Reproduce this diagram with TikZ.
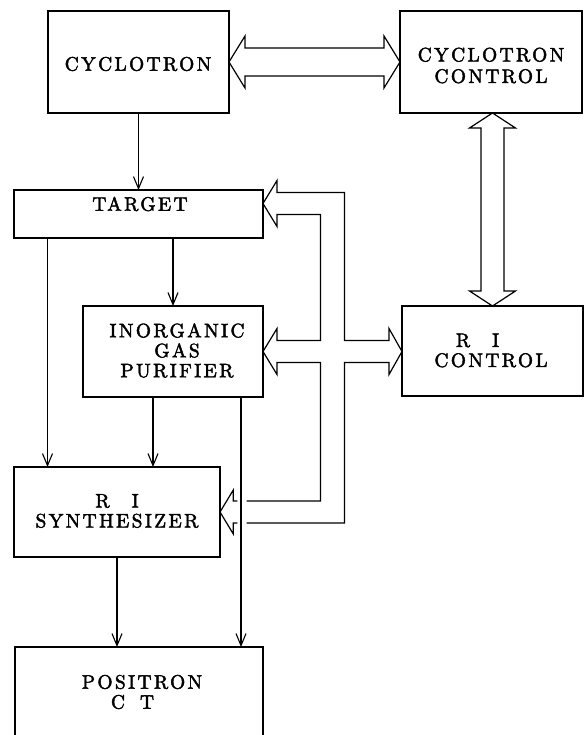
\documentclass[tikz,border=0pt]{standalone}
\usepackage{fontspec}
\usetikzlibrary{arrows.meta, positioning, calc}
\newfontfamily\boxfam{lmroman10-regular.otf}[LetterSpace=12, FakeBold=2.2]
\newcommand{\boxfont}{\boxfam\fontsize{19.5}{20}\selectfont}

\begin{document}
\begin{tikzpicture}[x=1pt, y=-1pt, line width=1.2pt,
    blk/.style={draw, inner sep=0pt, outer sep=0pt, anchor=north west},
    lbl/.style={font=\boxfont, align=center, inner sep=0pt},
    flow/.style={-{Straight Barb[length=12pt, width=10pt]}, line width=1.1pt}]
    \useasboundingbox (0,0) rectangle (585,735);
    \clip (0,0) rectangle (585,735);
    \fill[white] (0,0) rectangle (585,735);

    % Boxes
    \node[blk, minimum width=181pt, minimum height=102pt] (cyc) at (48,11) {};
    \node[blk, minimum width=182pt, minimum height=102pt] (cycctl) at (400,11) {};
    \node[blk, minimum width=249pt, minimum height=48pt] (tgt) at (14,190) {};
    \node[blk, minimum width=180pt, minimum height=91pt] (pur) at (83,306) {};
    \node[blk, minimum width=181pt, minimum height=90pt] (rictl) at (402,306) {};
    \node[blk, minimum width=206pt, minimum height=90pt] (syn) at (14,467) {};
    \node[blk, minimum width=248pt, minimum height=110pt] (pct) at (15,647) {};

    % Texts
    \node[lbl] (cyc-t) at (138,64) {CYCLOTRON};
    \node[lbl] (cycctl-t) at (491,65.5) {CYCLOTRON\\[1.5pt]CONTROL};
    \node[lbl] (tgt-t) at (140,204) {TARGET};
    \node[lbl] (pur-t) at (177,350.5) {INORGANIC\\GAS\\PURIFIER};
    \node[lbl] (rictl-t) at (491,350.5) {R\hspace{22pt}I\rule{27pt}{0pt}\\CONTROL};
    \node[lbl] (syn-t) at (117,511) {R\hspace{22pt}I\\SYNTHESIZER};
    \node[lbl] (pct-t) at (142,692) {POSITRON\\C\hspace{15pt}T\rule{19pt}{0pt}};

    % Flow lines
    \draw[flow] (cyc.south) -- (cyc.south |- tgt.north);
    \draw[flow] ($(tgt.south west)+(33.5,0)$) coordinate (t1) -- (t1 |- syn.north);
    \draw[flow] (pur.north |- tgt.south) -- (pur.north);
    \draw[flow] ($(pur.south west)+(70,0)$) coordinate (p1) -- (p1 |- syn.north);
    \draw[flow] ($(pur.south west)+(158,0)$) coordinate (p2) -- (p2 |- pct.north);
    \draw[flow] (syn.south) -- (syn.south |- pct.north);

    % Control buses
    \draw (cyc.east) -- ++(16,-26) -- ++(0,12) -- ($(cycctl.west)+(-16,-14)$)
        -- ++(0,-12) -- (cycctl.west) -- ++(-16,26) -- ++(0,-12)
        -- ($(cyc.east)+(16,14)$) -- ++(0,12) -- cycle;
    \coordinate (vt) at (rictl.north |- cycctl.south);
    \draw (vt) -- ++(23,15) -- ++(-11.5,0) -- ($(rictl.north)+(11.5,-15)$)
        -- ++(11.5,0) -- (rictl.north) -- ++(-23,-15) -- ++(11.5,0)
        -- ($(vt)+(-11.5,15)$) -- ++(-11.5,0) -- cycle;

    \coordinate (ta) at ($(tgt.east)+(0,-10.5)$);
    \coordinate (pa) at (pur.east);
    \coordinate (ra) at (rictl.west |- pur.east);
    \coordinate (sa) at (syn.east);
    \coordinate (busL) at (320.5,0);
    \coordinate (busR) at (344.5,0);
    \draw ($(sa)+(26.7,-11)$) -- ($(busL |- sa)+(0,-11)$) -- ($(busL |- pa)+(0,11)$)
        -- ($(pa)+(14,11)$) -- ++(0,12) -- (pa) -- ++(14,-23) -- ++(0,12)
        -- ($(busL |- pa)+(0,-11)$) -- ($(busL |- ta)+(0,11)$)
        -- ($(ta)+(14,11)$) -- ++(0,12) -- (ta) -- ++(14,-23) -- ++(0,12)
        -- ($(busR |- ta)+(0,-11)$) -- ($(busR |- pa)+(0,-11)$)
        -- ($(ra)+(-13,-11)$) -- ++(0,-12) -- (ra) -- ++(-13,23) -- ++(0,-12)
        -- ($(busR |- pa)+(0,11)$) -- ($(busR |- sa)+(0,11)$) -- ($(sa)+(26.7,11)$);
    \draw ($(sa)+(17.3,-11)$) -- ++(-4,0) -- ++(0,-11) -- (sa) -- ++(13.3,22)
        -- ++(0,-11) -- ++(4,0);
\end{tikzpicture}
\end{document}
